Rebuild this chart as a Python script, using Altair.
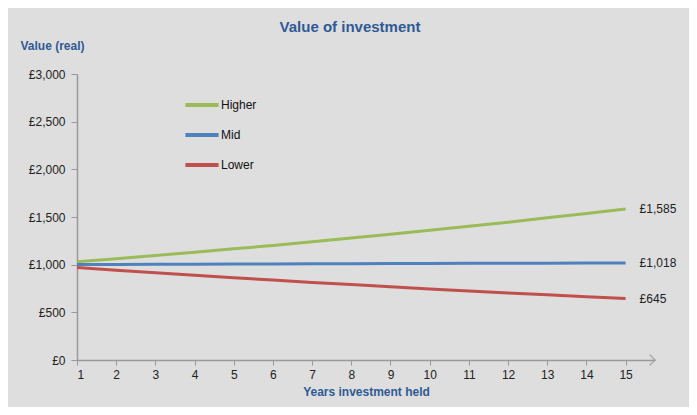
import altair as alt
import pandas as pd

years = list(range(1, 16))
higher = [1031, 1063, 1096, 1131, 1166, 1202, 1240, 1279, 1318, 1360, 1402, 1446, 1491, 1537, 1585]
mid = [1001, 1002, 1004, 1005, 1006, 1007, 1009, 1010, 1011, 1012, 1014, 1015, 1016, 1017, 1018]
lower = [970, 942, 915, 889, 863, 839, 814, 791, 768, 746, 725, 704, 684, 664, 645]
series = ["Higher", "Mid", "Lower"]
colors = ["#9BBB59", "#4F81BD", "#C0504D"]
end_labels = ["£1,585", "£1,018", "£645"]
y_ticks = [0, 500, 1000, 1500, 2000, 2500, 3000]

rows = []
for name, vals in zip(series, [higher, mid, lower]):
    for yr, v in zip(years, vals):
        rows.append({"year": yr, "value": v, "scenario": name})
df = pd.DataFrame(rows)

ends = pd.DataFrame({
    "year": [years[-1]] * 3,
    "value": [higher[-1], mid[-1], lower[-1]],
    "label": end_labels,
    "scenario": series,
})

arrow_df = pd.DataFrame({"year": [15.75], "value": [0]})

blue_text = "#2F5A95"
xscale = alt.Scale(domain=[1, 15.75], nice=False, zero=False)
yscale = alt.Scale(domain=[0, 3000], nice=False)

lines = alt.Chart(df).mark_line(strokeWidth=3).encode(
    x=alt.X("year:Q", scale=xscale,
            axis=alt.Axis(values=years, format="d", title="Years investment held",
                          titleColor=blue_text, titleFontSize=12, titleFontWeight="bold",
                          titlePadding=6, labelFontSize=12, labelColor="#222222",
                          labelFont="Liberation Sans", titleFont="Liberation Sans",
                          domainColor="#999999", domainWidth=1.5, tickColor="#999999",
                          tickSize=5, labelPadding=4, grid=False)),
    y=alt.Y("value:Q", scale=yscale,
            axis=alt.Axis(values=y_ticks, labelExpr='"£" + format(datum.value, ",")',
                          title="Value (real)", titleAngle=0, titleAlign="left",
                          titleX=-57, titleY=-22, titleColor=blue_text, titleFontSize=12,
                          titleFontWeight="bold", titleFont="Liberation Sans",
                          labelFontSize=12, labelColor="#222222", labelFont="Liberation Sans",
                          domainColor="#999999", domainWidth=1.5, tickColor="#999999",
                          tickSize=6, labelPadding=6, grid=False)),
    color=alt.Color("scenario:N", scale=alt.Scale(domain=series, range=colors),
                    sort=series,
                    legend=alt.Legend(title=None, orient="none", legendX=106, legendY=12,
                                      symbolType="stroke", symbolSize=1100, symbolStrokeWidth=4,
                                      labelFontSize=12, labelColor="#111111",
                                      labelFont="Liberation Sans", rowPadding=3,
                                      labelOffset=0)),
)

labels = alt.Chart(ends).mark_text(align="left", dx=14, fontSize=12, color="#222222",
                                   font="Liberation Sans").encode(
    x=alt.X("year:Q", scale=xscale),
    y=alt.Y("value:Q", scale=yscale),
    text="label:N",
)

arrow = alt.Chart(arrow_df).mark_point(
    shape="M-1,-1L0,0L-1,1", size=120, filled=False, stroke="#999999", strokeWidth=1.5
).encode(
    x=alt.X("year:Q", scale=xscale),
    y=alt.Y("value:Q", scale=yscale),
)

chart = alt.layer(lines, labels, arrow).properties(
    width=578, height=286,
    title=alt.TitleParams("Value of investment", fontSize=15, font="Liberation Sans",
                          fontWeight="bold", color=blue_text, anchor="middle", dx=-16,
                          offset=4),
    background="#DEDEDE",
    padding={"left": 69, "top": 66, "right": 34, "bottom": 47},
    autosize=alt.AutoSizeParams(type="none"),
).configure_view(stroke=None)

chart.save("out.html", embed_options={"renderer": "svg", "actions": False})
